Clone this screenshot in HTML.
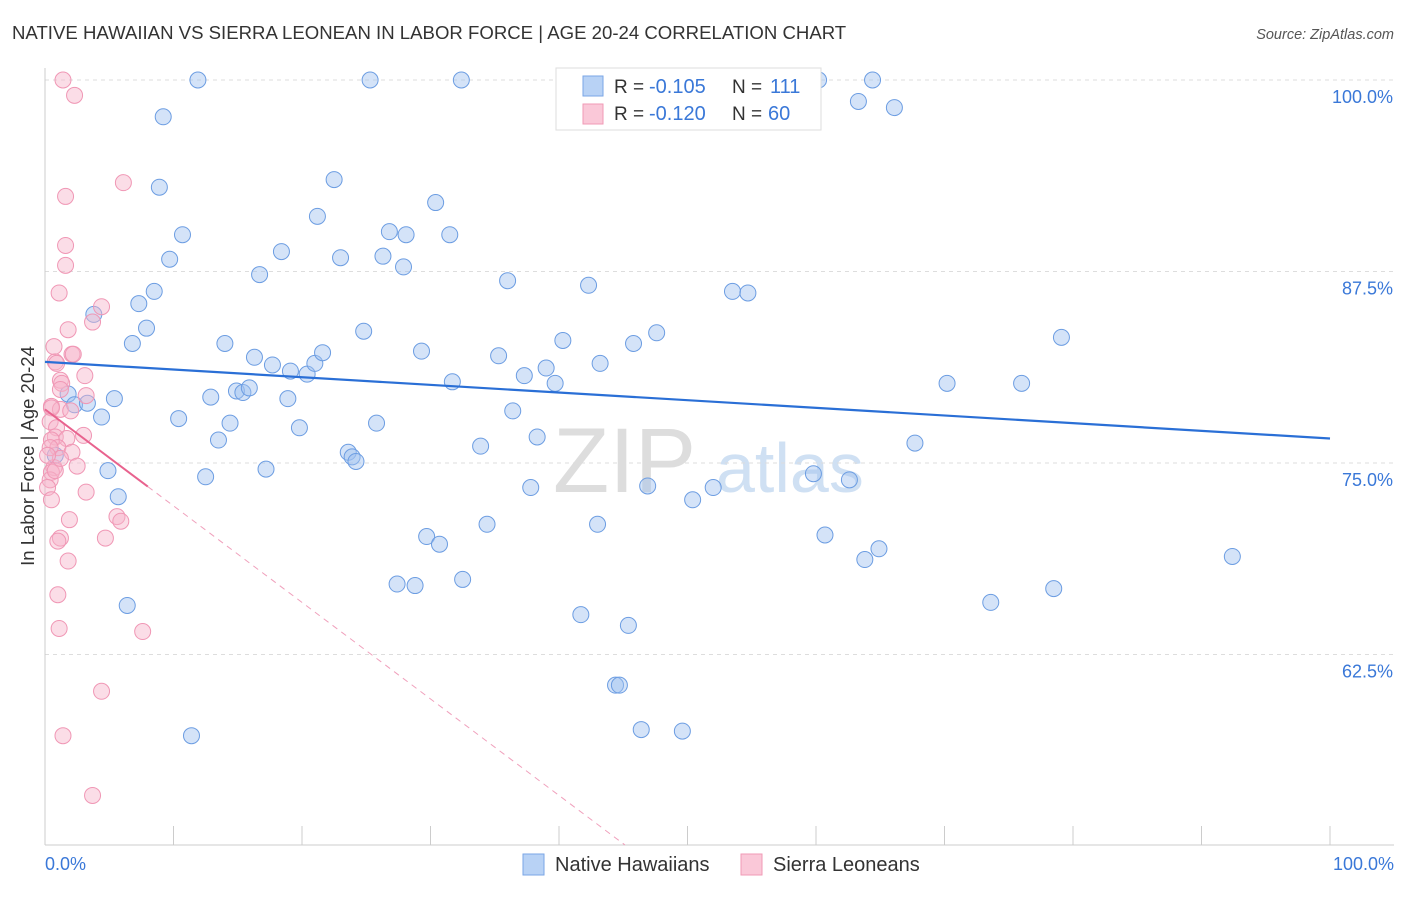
<!DOCTYPE html>
<html><head><meta charset="utf-8"><style>
body{margin:0;background:#fff;font-family:"Liberation Sans",sans-serif;}
svg text{font-family:"Liberation Sans",sans-serif;}
</style></head><body>
<svg id="chart" width="1406" height="892">
<text x="12" y="39" font-size="18.6" fill="#333">NATIVE HAWAIIAN VS SIERRA LEONEAN IN LABOR FORCE | AGE 20-24 CORRELATION CHART</text>
<text x="1394" y="39" font-size="14.5" fill="#555" font-style="italic" text-anchor="end">Source: ZipAtlas.com</text>
<text x="34" y="456" font-size="18.5" fill="#333" text-anchor="middle" transform="rotate(-90 34 456)">In Labor Force | Age 20-24</text>
<g><text x="553" y="492" font-size="92" fill="#ddd" font-family="Liberation Serif">ZIP</text><text x="716" y="492" font-size="70" fill="#cfe0f3">atlas</text></g>
<g id="grid"></g><g id="axes"></g><g id="pts"></g><g id="trends"></g>
<g>
<rect x="556" y="68" width="265" height="62" fill="#fff" stroke="#ddd"/>
<rect x="583" y="76" width="20" height="20" fill="#b8d2f5" stroke="#7aa6e6"/>
<rect x="583" y="104" width="20" height="20" fill="#fac8d8" stroke="#f09ab6"/>
<text x="614" y="93" font-size="19" fill="#333">R =</text>
<text x="649" y="93" font-size="20" fill="#3a78d8">-0.105</text>
<text x="732" y="93" font-size="19" fill="#333">N =</text>
<text x="770" y="93" font-size="20" fill="#3a78d8">111</text>
<text x="614" y="120" font-size="19" fill="#333">R =</text>
<text x="649" y="120" font-size="20" fill="#3a78d8">-0.120</text>
<text x="732" y="120" font-size="19" fill="#333">N =</text>
<text x="768" y="120" font-size="20" fill="#3a78d8">60</text>
</g>
<g>
<rect x="523" y="854" width="21" height="21" fill="#b8d2f5" stroke="#7aa6e6"/>
<text x="555" y="871" font-size="20" fill="#333">Native Hawaiians</text>
<rect x="741" y="854" width="21" height="21" fill="#fac8d8" stroke="#f09ab6"/>
<text x="773" y="871" font-size="20" fill="#333">Sierra Leoneans</text>
</g>
</svg>
<script>
const blueX=[11.9,25.3,32.4,46.3,60.2,64.4,9.2,63.3,66.1,8.9,22.5,30.4,21.2,10.7,26.8,28.1,31.5,9.7,18.4,23.0,26.3,16.7,27.9,36.0,42.3,53.5,54.7,8.5,7.3,3.8,7.9,6.8,14.0,24.8,29.3,35.3,40.3,45.8,47.6,79.1,16.3,17.7,19.1,20.4,21.0,21.6,37.3,39.0,39.7,43.2,31.7,70.2,76.0,1.8,5.4,2.3,3.3,12.9,14.9,15.4,15.9,18.9,36.4,10.4,4.4,14.4,13.5,19.8,25.8,33.9,38.3,23.6,23.9,24.2,67.7,4.9,12.5,17.2,5.7,37.8,46.9,50.4,52.0,59.8,62.6,34.4,43.0,29.7,30.7,60.7,64.9,63.8,92.4,27.4,28.8,32.5,6.4,41.7,45.4,73.6,78.5,44.4,44.7,46.4,49.6,11.4,0.8];
const blueY=[100,100,100,100,100,100,97.6,98.6,98.2,93.0,93.5,92.0,91.1,89.9,90.1,89.9,89.9,88.3,88.8,88.4,88.5,87.3,87.8,86.9,86.6,86.2,86.1,86.2,85.4,84.7,83.8,82.8,82.8,83.6,82.3,82.0,83.0,82.8,83.5,83.2,81.9,81.4,81.0,80.8,81.5,82.2,80.7,81.2,80.2,81.5,80.3,80.2,80.2,79.5,79.2,78.8,78.9,79.3,79.7,79.6,79.9,79.2,78.4,77.9,78.0,77.6,76.5,77.3,77.6,76.1,76.7,75.7,75.4,75.1,76.3,74.5,74.1,74.6,72.8,73.4,73.5,72.6,73.4,74.3,73.9,71.0,71.0,70.2,69.7,70.3,69.4,68.7,68.9,67.1,67.0,67.4,65.7,65.1,64.4,65.9,66.8,60.5,60.5,57.6,57.5,57.2,75.5];
const pinkX=[1.4,2.3,6.1,1.6,1.6,1.6,1.1,4.4,3.7,1.8,0.7,0.8,2.1,2.2,0.9,3.1,1.2,1.3,1.2,3.2,0.5,1.2,0.5,2.0,0.4,0.9,0.8,3.0,0.5,1.7,1.0,0.4,2.1,2.5,0.7,0.5,0.4,0.2,0.5,3.2,5.6,5.9,1.9,1.2,4.7,1.0,1.8,1.0,1.1,7.6,4.4,1.4,3.7,0.8,1.2,0.2];
const pinkY=[100,99.0,93.3,92.4,89.2,87.9,86.1,85.2,84.2,83.7,82.6,81.6,82.1,82.1,81.5,80.7,80.4,80.2,79.8,79.4,78.7,78.5,78.6,78.4,77.7,77.3,76.7,76.8,76.5,76.6,76.0,76.0,75.7,74.8,74.7,74.4,73.9,73.4,72.6,73.1,71.5,71.2,71.3,70.1,70.1,69.9,68.6,66.4,64.2,64.0,60.1,57.2,53.3,74.5,75.3,75.5];
const yTicks=[100,87.5,75,62.5];
const yTickLabels=["100.0%","87.5%","75.0%","62.5%"];
const xTickLabels=["0.0%","100.0%"];
const blueTrend=[81.6,76.6];
const pinkTrend=[78.5,-0.63];
const pinkSolidEnd=8;

const NS="http://www.w3.org/2000/svg";
const X=v=>45+v*12.85;
const Y=v=>80+(100-v)*15.32;
const yMin=50.07;
function mk(tag,attrs,parent){const e=document.createElementNS(NS,tag);for(const k in attrs)e.setAttribute(k,attrs[k]);document.getElementById(parent).appendChild(e);return e;}

yTicks.forEach((t,i)=>{
  const l=mk('line',{x1:45,x2:1394,y1:Y(t),y2:Y(t),stroke:'#ddd','stroke-dasharray':'4,4'},'grid');
  
  
  const tx=mk('text',{x:1393,y:Y(t)+23,'font-size':18,fill:'#3a78d8','text-anchor':'end'},'axes');
  tx.textContent=yTickLabels[i];
  
  
});
const ax=mk('line',{x1:45,x2:1394,y1:845,y2:845,stroke:'#ccc'},'axes');


const ay=mk('line',{x1:45,x2:45,y1:68,y2:845,stroke:'#ccc'},'axes');


for(let i=0;i<=10;i++){
  const t=mk('line',{x1:X(i*10),x2:X(i*10),y1:826,y2:845,stroke:'#ccc'},'axes');
  
  
}
[[0,'start',45],[100,'end',1394]].forEach((d,i)=>{
  const tx=mk('text',{x:d[2],y:870,'font-size':18,fill:'#3a78d8','text-anchor':d[1]},'axes');
  tx.textContent=xTickLabels[i];
  
  
});
blueX.forEach((x,i)=>{
  const c=mk('circle',{cx:X(x),cy:Y(blueY[i]),r:8,fill:'rgba(160,192,240,0.45)',stroke:'#6c9de2','stroke-width':1},'pts');
  
  
});
pinkX.forEach((x,i)=>{
  const c=mk('circle',{cx:X(x),cy:Y(pinkY[i]),r:8,fill:'rgba(247,180,202,0.45)',stroke:'#f097b5','stroke-width':1},'pts');
  
  
});
const bt=mk('line',{x1:X(0),y1:Y(blueTrend[0]),x2:X(100),y2:Y(blueTrend[1]),stroke:'#2a6fd6','stroke-width':2.2},'trends');


const pf=x=>pinkTrend[0]+pinkTrend[1]*x;
const ps=mk('line',{x1:X(0),y1:Y(pf(0)),x2:X(pinkSolidEnd),y2:Y(pf(pinkSolidEnd)),stroke:'#e8628e','stroke-width':2},'trends');


const xEnd=(yMin-pinkTrend[0])/pinkTrend[1];
const pd=mk('line',{x1:X(pinkSolidEnd),y1:Y(pf(pinkSolidEnd)),x2:X(xEnd),y2:Y(yMin),stroke:'#f0a0bc','stroke-width':1,'stroke-dasharray':'6,5'},'trends');


</script>
</body></html>
